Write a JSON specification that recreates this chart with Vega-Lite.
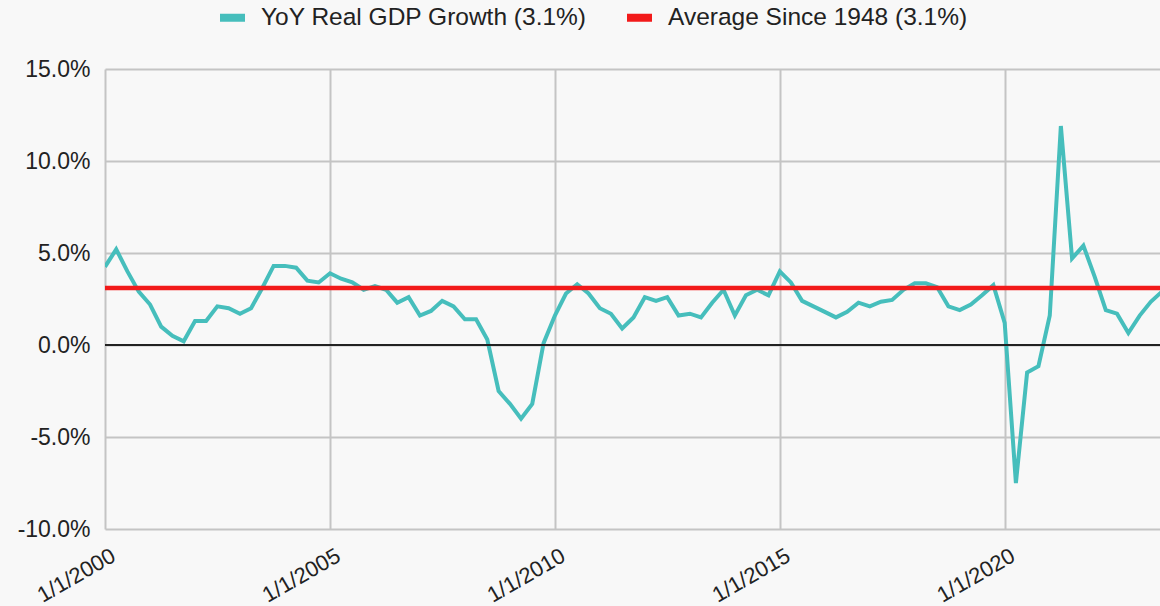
{
  "$schema": "https://vega.github.io/schema/vega-lite/v6.json",
  "width": 1055,
  "height": 460,
  "autosize": {"type": "none"},
  "padding": {"left": 105, "top": 69, "right": 0, "bottom": 77},
  "background": "#f8f8f8",
  "config": {
    "view": {"stroke": null},
    "font": "Liberation Sans",
    "axis": {"labelFont": "Liberation Sans", "labelFontSize": 23, "labelColor": "#222222", "gridColor": "#c4c4c4", "gridWidth": 2, "domain": false, "ticks": false, "title": null},
    "legend": {"labelFont": "Liberation Sans", "labelFontSize": 24.5, "labelColor": "#222222", "labelLimit": 0}
  },
  "datasets": {
    "gdp": [
      {"date": "2000-01-01", "value": 4.25}, {"date": "2000-04-01", "value": 5.2}, {"date": "2000-07-01", "value": 4.0}, {"date": "2000-10-01", "value": 2.9},
      {"date": "2001-01-01", "value": 2.2}, {"date": "2001-04-01", "value": 1.0}, {"date": "2001-07-01", "value": 0.5}, {"date": "2001-10-01", "value": 0.2},
      {"date": "2002-01-01", "value": 1.3}, {"date": "2002-04-01", "value": 1.3}, {"date": "2002-07-01", "value": 2.1}, {"date": "2002-10-01", "value": 2.0},
      {"date": "2003-01-01", "value": 1.7}, {"date": "2003-04-01", "value": 2.0}, {"date": "2003-07-01", "value": 3.1}, {"date": "2003-10-01", "value": 4.3},
      {"date": "2004-01-01", "value": 4.3}, {"date": "2004-04-01", "value": 4.2}, {"date": "2004-07-01", "value": 3.5}, {"date": "2004-10-01", "value": 3.4},
      {"date": "2005-01-01", "value": 3.9}, {"date": "2005-04-01", "value": 3.6}, {"date": "2005-07-01", "value": 3.4}, {"date": "2005-10-01", "value": 3.0},
      {"date": "2006-01-01", "value": 3.2}, {"date": "2006-04-01", "value": 3.0}, {"date": "2006-07-01", "value": 2.3}, {"date": "2006-10-01", "value": 2.6},
      {"date": "2007-01-01", "value": 1.6}, {"date": "2007-04-01", "value": 1.85}, {"date": "2007-07-01", "value": 2.4}, {"date": "2007-10-01", "value": 2.1},
      {"date": "2008-01-01", "value": 1.4}, {"date": "2008-04-01", "value": 1.4}, {"date": "2008-07-01", "value": 0.3}, {"date": "2008-10-01", "value": -2.5},
      {"date": "2009-01-01", "value": -3.2}, {"date": "2009-04-01", "value": -4.0}, {"date": "2009-07-01", "value": -3.2}, {"date": "2009-10-01", "value": 0.1},
      {"date": "2010-01-01", "value": 1.6}, {"date": "2010-04-01", "value": 2.8}, {"date": "2010-07-01", "value": 3.3}, {"date": "2010-10-01", "value": 2.8},
      {"date": "2011-01-01", "value": 2.0}, {"date": "2011-04-01", "value": 1.7}, {"date": "2011-07-01", "value": 0.9}, {"date": "2011-10-01", "value": 1.5},
      {"date": "2012-01-01", "value": 2.6}, {"date": "2012-04-01", "value": 2.4}, {"date": "2012-07-01", "value": 2.6}, {"date": "2012-10-01", "value": 1.6},
      {"date": "2013-01-01", "value": 1.7}, {"date": "2013-04-01", "value": 1.5}, {"date": "2013-07-01", "value": 2.3}, {"date": "2013-10-01", "value": 3.0},
      {"date": "2014-01-01", "value": 1.6}, {"date": "2014-04-01", "value": 2.7}, {"date": "2014-07-01", "value": 3.0}, {"date": "2014-10-01", "value": 2.7},
      {"date": "2015-01-01", "value": 4.0}, {"date": "2015-04-01", "value": 3.4}, {"date": "2015-07-01", "value": 2.4}, {"date": "2015-10-01", "value": 2.1},
      {"date": "2016-01-01", "value": 1.8}, {"date": "2016-04-01", "value": 1.5}, {"date": "2016-07-01", "value": 1.8}, {"date": "2016-10-01", "value": 2.3},
      {"date": "2017-01-01", "value": 2.1}, {"date": "2017-04-01", "value": 2.35}, {"date": "2017-07-01", "value": 2.45}, {"date": "2017-10-01", "value": 3.0},
      {"date": "2018-01-01", "value": 3.35}, {"date": "2018-04-01", "value": 3.35}, {"date": "2018-07-01", "value": 3.15}, {"date": "2018-10-01", "value": 2.1},
      {"date": "2019-01-01", "value": 1.9}, {"date": "2019-04-01", "value": 2.2}, {"date": "2019-07-01", "value": 2.7}, {"date": "2019-10-01", "value": 3.25},
      {"date": "2020-01-01", "value": 1.2}, {"date": "2020-04-01", "value": -7.5}, {"date": "2020-07-01", "value": -1.5}, {"date": "2020-10-01", "value": -1.15},
      {"date": "2021-01-01", "value": 1.6}, {"date": "2021-04-01", "value": 11.9}, {"date": "2021-07-01", "value": 4.7}, {"date": "2021-10-01", "value": 5.4},
      {"date": "2022-01-01", "value": 3.7}, {"date": "2022-04-01", "value": 1.9}, {"date": "2022-07-01", "value": 1.7}, {"date": "2022-10-01", "value": 0.65},
      {"date": "2023-01-01", "value": 1.6}, {"date": "2023-04-01", "value": 2.35}, {"date": "2023-07-01", "value": 2.9}
    ],
    "avg": [
      {"date": "2000-01-01", "value": 3.1},
      {"date": "2023-10-01", "value": 3.1}
    ]
  },
  "layer": [
    {
      "data": {"name": "gdp"},
      "transform": [{"calculate": "'YoY Real GDP Growth (3.1%)'", "as": "series"}],
      "mark": {"type": "line", "strokeWidth": 4, "clip": true},
      "encoding": {
        "x": {
          "field": "date", "type": "temporal",
          "scale": {"type": "utc", "domain": [{"year": 2000, "month": 1, "date": 1, "utc": true}, {"year": 2023, "month": 6, "date": 15, "utc": true}]},
          "axis": {
            "values": [{"year": 2000, "month": 1, "date": 1, "utc": true}, {"year": 2005, "month": 1, "date": 1, "utc": true}, {"year": 2010, "month": 1, "date": 1, "utc": true}, {"year": 2015, "month": 1, "date": 1, "utc": true}, {"year": 2020, "month": 1, "date": 1, "utc": true}],
            "labelExpr": "'1/1/' + utcFormat(datum.value, '%Y')",
            "labelFontSize": 22,
            "labelAngle": -30, "labelAlign": "right", "labelBaseline": "top", "labelPadding": 16, "labelOffset": 3, "labelFlush": false, "labelOverlap": false
          }
        },
        "y": {
          "field": "value", "type": "quantitative",
          "scale": {"domain": [-10, 15], "nice": false, "zero": false},
          "axis": {"values": [-10, -5, 0, 5, 10, 15], "labelExpr": "(datum.value < 0 ? '-' : '') + format(abs(datum.value), '.1f') + '%'", "labelPadding": 15}
        },
        "color": {
          "field": "series", "type": "nominal",
          "scale": {"domain": ["YoY Real GDP Growth (3.1%)", "Average Since 1948 (3.1%)"], "range": ["#46bebc", "#f21a1a"]},
          "legend": {
            "title": null, "orient": "none", "direction": "horizontal", "legendX": 111, "legendY": -68,
            "symbolType": "stroke", "symbolSize": 625, "symbolStrokeWidth": 8, "symbolOpacity": 1,
            "labelOffset": 12, "columnPadding": 24, "padding": 0
          }
        }
      }
    },
    {
      "data": {"name": "avg"},
      "transform": [{"calculate": "'Average Since 1948 (3.1%)'", "as": "series"}],
      "mark": {"type": "line", "strokeWidth": 4.5, "clip": true},
      "encoding": {
        "x": {"field": "date", "type": "temporal"},
        "y": {"field": "value", "type": "quantitative"},
        "color": {"field": "series", "type": "nominal"}
      }
    },
    {
      "data": {"values": [{"z": 0}]},
      "mark": {"type": "rule", "color": "#222222", "strokeWidth": 2},
      "encoding": {"y": {"field": "z", "type": "quantitative"}}
    }
  ]
}
